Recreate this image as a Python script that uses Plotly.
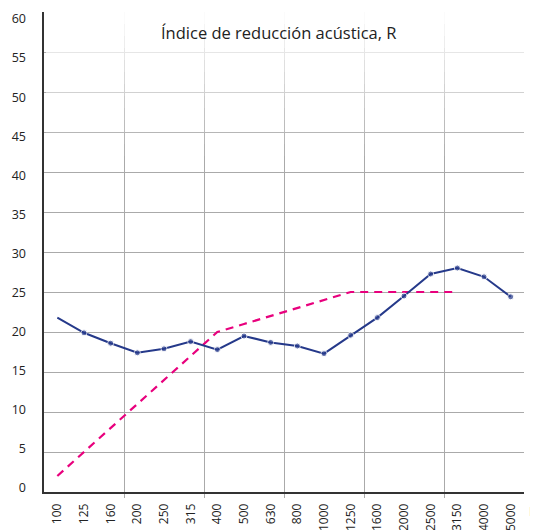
import plotly.graph_objects as go

freqs = ["100", "125", "160", "200", "250", "315", "400", "500", "630", "800",
         "1000", "1250", "1600", "2000", "2500", "3150", "4000", "5000"]
measured = [21.8, 19.9, 18.6, 17.4, 17.9, 18.8, 17.8, 19.5, 18.7, 18.25,
            17.3, 19.6, 21.8, 24.5, 27.25, 28.0, 26.9, 24.4]
reference = [2, 5, 8, 11, 14, 17, 20, 21, 22, 23, 24, 25, 25, 25, 25, 25]
y_ticks = list(range(0, 65, 5))
title_text = "Índice de reducción acústica, R"
unit_text = "Hz"

idx = list(range(len(freqs)))
font_family = "Open Sans, Noto Sans, sans-serif"
blue = "#25398a"
pink = "#e8007d"

fig = go.Figure()
fig.add_trace(go.Scatter(
    x=idx[:len(reference)], y=reference, mode="lines",
    line=dict(color=pink, width=2.2, dash="8px,6px"), hoverinfo="skip"))
fig.add_trace(go.Scatter(
    x=idx, y=measured, mode="lines+markers",
    line=dict(color=blue, width=2),
    marker=dict(color=blue, size=[0] + [6] * (len(idx) - 1)),
    hoverinfo="skip"))

# fading of the grid towards the top
n = 12
y0, y1 = 42.0, 60.0
prev = 0.0
for k in range(n):
    yk = y0 + (y1 - y0) * k / n
    target = min(1.0, (k + 1) / n) * 0.96
    a = 1 - (1 - target) / (1 - prev)
    prev = target
    fig.add_shape(type="rect", xref="paper", yref="y", x0=0.004, x1=1.0, y0=yk, y1=60.5,
                  fillcolor="white", opacity=a, line=dict(width=0), layer="above")

fig.add_annotation(text=title_text, x=0.489, xref="paper", y=57.5, yref="y",
                   showarrow=False, font=dict(family=font_family, size=16.5, color="#222"))
fig.add_annotation(text=unit_text, x=1.0, xref="paper", xshift=3, xanchor="left",
                   y=-0.04, yref="paper", yanchor="middle", showarrow=False,
                   font=dict(family=font_family, size=13, color="#222"))

fig.update_layout(
    width=538, height=530,
    margin=dict(l=36, r=22, t=4, b=46),
    paper_bgcolor="white", plot_bgcolor="white",
    showlegend=False,
    font=dict(family=font_family, size=12, color="#222"),
    xaxis=dict(
        range=[-0.5, 17.5], tickmode="array", tickvals=idx, ticktext=freqs,
        tickangle=-90, showgrid=False, zeroline=False, ticks="", automargin=False,
        showline=True, linecolor="#333", linewidth=1.5, ticklabelstandoff=5,
        tickfont=dict(size=12, color="#222"),
        minor=dict(tickmode="array", tickvals=[2.5, 5.5, 8.5, 11.5, 14.5],
                   showgrid=True, gridcolor="#aaaaaa", gridwidth=1,
                   ticks="outside", ticklen=4, tickcolor="#aaaaaa"),
    ),
    yaxis=dict(
        range=[0, 60], tickmode="array", tickvals=y_ticks[:-1], showticklabels=False,
        showgrid=True, gridcolor="#aaaaaa", gridwidth=1, zeroline=False, ticks="",
        showline=True, linecolor="#333", linewidth=1.5, automargin=False,
    ),
    yaxis2=dict(
        overlaying="y", side="left", range=[-0.512, 60.895], automargin=False,
        tickmode="array", tickvals=y_ticks, showgrid=False, zeroline=False,
        showline=False, ticks="", ticklabelstandoff=17,
        tickfont=dict(size=12.5, color="#222"),
    ),
)
fig.add_trace(go.Scatter(x=[None], y=[None], yaxis="y2", showlegend=False, hoverinfo="skip"))

fig.write_html("out.html")
